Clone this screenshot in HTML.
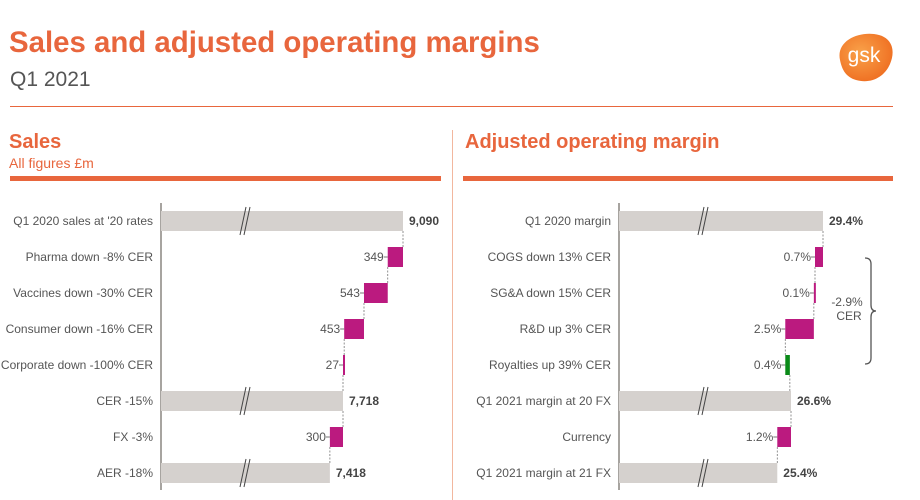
<!DOCTYPE html>
<html><head><meta charset="utf-8"><style>
body{margin:0;width:920px;height:500px;background:#fff;overflow:hidden;font-family:"Liberation Sans",sans-serif;position:relative}
.t{position:absolute;white-space:nowrap}
</style></head><body>
<div class="t" style="left:9px;top:26px;font-size:29.4px;font-weight:bold;color:#E8663D">Sales and adjusted operating margins</div>
<div class="t" style="left:10px;top:68px;font-size:21px;color:#555">Q1 2021</div>
<svg style="position:absolute;left:834px;top:30px" width="62" height="54" viewBox="0 0 62 54">
<defs><radialGradient id="lg" cx="0.4" cy="0.4" r="0.7"><stop offset="0" stop-color="#F9A24A"/><stop offset="1" stop-color="#EE6A1E"/></radialGradient></defs>
<path d="M6 30 C2 12 22 2 40 4 C58 6 62 20 56 34 C50 48 36 54 22 50 C12 47 8 40 6 30Z" fill="url(#lg)"/>
<text x="30" y="32" font-family="Liberation Sans" font-size="21" fill="#fff" text-anchor="middle">gsk</text></svg>
<div style="position:absolute;left:10px;top:106px;width:883px;height:1px;background:#E8663D"></div>
<div style="position:absolute;left:452px;top:130px;width:1px;height:370px;background:#F2B79E"></div>
<div class="t" style="left:9px;top:131px;font-size:20px;font-weight:bold;color:#E8663D">Sales</div>
<div class="t" style="left:9px;top:155px;font-size:14px;color:#E8663D">All figures £m</div>
<div style="position:absolute;left:10px;top:176px;width:431px;height:5px;background:#E8663D"></div>
<div class="t" style="left:465px;top:131px;font-size:20px;font-weight:bold;color:#E8663D">Adjusted operating margin</div>
<div style="position:absolute;left:463px;top:176px;width:430px;height:5px;background:#E8663D"></div>
<svg id="c" style="position:absolute;left:0;top:0" width="920" height="500"></svg>
<script>
const salesCats=["Q1 2020 sales at '20 rates","Pharma down -8% CER","Vaccines down -30% CER","Consumer down -16% CER","Corporate down -100% CER","CER -15%","FX -3%","AER -18%"];
const salesVals=[9090,-349,-543,-453,-27,7718,-300,7418];
const salesTotal=[true,false,false,false,false,true,false,true];
const salesLabels=["9,090","349","543","453","27","7,718","300","7,418"];
const marCats=["Q1 2020 margin","COGS down 13% CER","SG&A down 15% CER","R&D up 3% CER","Royalties up 39% CER","Q1 2021 margin at 20 FX","Currency","Q1 2021 margin at 21 FX"];
const marVals=[29.4,-0.7,-0.1,-2.5,0.4,26.6,-1.2,25.4];
const marTotal=[true,false,false,false,false,true,false,true];
const marLabels=["29.4%","0.7%","0.1%","2.5%","0.4%","26.6%","1.2%","25.4%"];
const svg=document.getElementById('c');const NS="http://www.w3.org/2000/svg";
function mk(t,a,txt){const e=document.createElementNS(NS,t);for(const k in a)e.setAttribute(k,a[k]);if(txt!=null)e.textContent=txt;svg.appendChild(e);return e;}
function draw(cats,vals,tot,labs,axX,x,prefix){
  const rowY=i=>221+i*36;
  const a=mk('line',{x1:axX,y1:203,x2:axX,y2:490,stroke:'#8a8580','stroke-width':1.5});
  
  
  let run=0,prevEnd=null;
  cats.forEach((c,i)=>{
    const y=rowY(i);
    const l=mk('text',{x:axX-8,y:y+4,'text-anchor':'end','font-size':12,fill:'#555','font-family':'Liberation Sans'},c);
    
    
    let x0,x1,col;
    if(tot[i]){run=vals[i];x0=axX;x1=x(run);col='#D5D1CE';}
    else{const s=run;run=run+vals[i];x0=Math.min(x(s),x(run));x1=Math.max(x(s),x(run));col=vals[i]<0?'#BB1A7F':'#0A8A18';}
    if(prevEnd!=null){mk('line',{x1:prevEnd,y1:y-26,x2:prevEnd,y2:y-10,stroke:'#777','stroke-dasharray':'2,1.5','stroke-width':0.8});}
    if(!tot[i]){mk('line',{x1:x0-4,y1:y,x2:x0,y2:y,stroke:'#555','stroke-width':0.8});}
    const r=mk('rect',{x:x0,y:y-10,width:Math.max(2,x1-x0),height:20,fill:col});
    
    
    prevEnd=x(run);
    if(tot[i]){
      mk('line',{x1:axX+79,y1:y+14,x2:axX+85,y2:y-14,stroke:'#444','stroke-width':1});
      mk('line',{x1:axX+83,y1:y+14,x2:axX+89,y2:y-14,stroke:'#444','stroke-width':1});
      const v=mk('text',{x:x1+6,y:y+4,'font-size':12,'font-weight':'bold',fill:'#444','font-family':'Liberation Sans'},labs[i]);
      
      
    }else{
      const v=mk('text',{x:x0-4,y:y+4,'text-anchor':'end','font-size':12,fill:'#555','font-family':'Liberation Sans'},labs[i]);
      
      
    }
  });
}
const xs=v=>343+(v-7718)*(60/1372);
const xm=v=>823+(v-29.4)*(32/2.8);
draw(salesCats,salesVals,salesTotal,salesLabels,161,xs,'sales');
draw(marCats,marVals,marTotal,marLabels,619,xm,'margin');
const b=mk('path',{d:'M865 258 Q871 258 871 264 L871 305 Q871 311 876 311 Q871 311 871 317 L871 358 Q871 364 865 364',fill:'none',stroke:'#555','stroke-width':1.3});


const t1=mk('text',{x:847,y:306,'text-anchor':'middle','font-size':12,fill:'#555','font-family':'Liberation Sans'},'-2.9%');


const t2=mk('text',{x:849,y:320,'text-anchor':'middle','font-size':12,fill:'#555','font-family':'Liberation Sans'},'CER');


</script>
</body></html>
